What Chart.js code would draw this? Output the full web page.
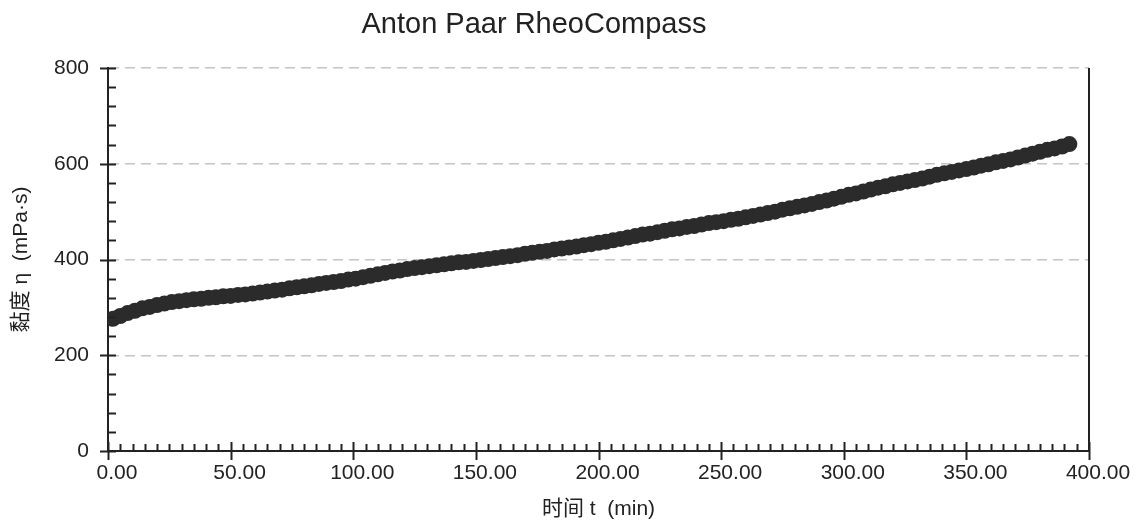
<!DOCTYPE html>
<html>
<head>
<meta charset="utf-8">
<script src="https://cdn.jsdelivr.net/npm/chart.js@4/dist/chart.umd.min.js"></script>
<style>
  html, body { margin: 0; padding: 0; background: #fff; }
  #wrap { width: 1143px; height: 524px; position: relative; }
</style>
</head>
<body>
<div id="wrap"><canvas id="rheo" width="1143" height="524"></canvas></div>
<script>
// Anton Paar RheoCompass — viscosity vs. time

const TITLE = 'Anton Paar RheoCompass';
const X_LABEL = '时间 t  (min)';
const Y_LABEL = '黏度 η  (mPa·s)';

// measurement times (min)
const times = [
  2, 5, 8, 11, 14, 17, 20, 23, 26, 29,
  32, 35, 38, 41, 44, 47, 50, 53, 56, 59,
  62, 65, 68, 71, 74, 77, 80, 83, 86, 89,
  92, 95, 98, 101, 104, 107, 110, 113, 116, 119,
  122, 125, 128, 131, 134, 137, 140, 143, 146, 149,
  152, 155, 158, 161, 164, 167, 170, 173, 176, 179,
  182, 185, 188, 191, 194, 197, 200, 203, 206, 209,
  212, 215, 218, 221, 224, 227, 230, 233, 236, 239,
  242, 245, 248, 251, 254, 257, 260, 263, 266, 269,
  272, 275, 278, 281, 284, 287, 290, 293, 296, 299,
  302, 305, 308, 311, 314, 317, 320, 323, 326, 329,
  332, 335, 338, 341, 344, 347, 350, 353, 356, 359,
  362, 365, 368, 371, 374, 377, 380, 383, 386, 389,
  392
];

// viscosity eta (mPa·s)
const viscosity = [
  276, 282, 288, 293, 298, 301, 305, 308, 311, 313,
  315, 317, 318, 320, 321, 323, 324, 326, 327, 329,
  331, 333, 335, 337, 340, 342, 344, 346, 349, 351,
  353, 355, 358, 360, 363, 366, 369, 372, 375, 377,
  380, 382, 384, 386, 388, 390, 392, 394, 395, 397,
  399, 401, 403, 405, 407, 409, 412, 414, 416, 418,
  421, 423, 425, 427, 430, 432, 435, 437, 440, 443,
  446, 449, 452, 454, 457, 460, 463, 465, 468, 470,
  473, 476, 478, 480, 483, 485, 488, 491, 494, 497,
  500, 504, 507, 510, 513, 516, 520, 523, 527, 531,
  535, 538, 542, 546, 550, 553, 557, 560, 563, 566,
  569, 573, 577, 580, 583, 586, 589, 592, 596, 599,
  603, 606, 609, 613, 617, 621, 625, 629, 632, 636,
  641
];

const xTicks = [0, 50, 100, 150, 200, 250, 300, 350, 400];
const yTicks = [0, 200, 400, 600, 800];

const INK = '#222222';
const FONT = '"Liberation Sans", Arial, "Noto Sans CJK SC", sans-serif';

// ===== PLUGINS =====
const frame = {
  id: 'frame',
  afterDraw(chart) {
    const { ctx, chartArea: a, scales: { x, y } } = chart;
    ctx.save();
    ctx.strokeStyle = INK;
    ctx.lineWidth = 2;

    // right border
    ctx.beginPath();
    ctx.moveTo(a.right, a.top);
    ctx.lineTo(a.right, a.bottom);
    ctx.stroke();

    // y ticks: minor every 40, major every 200
    for (let v = 0; v <= 800; v += 40) {
      const py = Math.round(y.getPixelForValue(v)) + 0.5;
      const major = yTicks.includes(v);
      ctx.beginPath();
      ctx.moveTo(a.left - (major ? 8 : 0), py);
      ctx.lineTo(a.left + 8, py);
      ctx.stroke();
    }

    // x ticks: minor every 5, major every 50
    for (let v = 0; v <= 400; v += 5) {
      const px = Math.round(x.getPixelForValue(v)) + 0.5;
      const major = xTicks.includes(v);
      ctx.beginPath();
      ctx.moveTo(px, a.bottom + (major ? 9 : 0));
      ctx.lineTo(px, a.bottom - (major ? 9 : 7));
      ctx.stroke();
    }

    // title
    ctx.fillStyle = INK;
    ctx.font = '29px ' + FONT;
    ctx.textAlign = 'center';
    ctx.textBaseline = 'middle';
    ctx.fillText(TITLE, 534, 25);
    ctx.restore();
  }
};

// ===== CHART =====
const ctx = document.getElementById('rheo').getContext('2d');
new Chart(ctx, {
  type: 'scatter',
  data: {
    datasets: [{
      label: 'eta',
      data: times.map((t, i) => ({ x: t, y: viscosity[i] })),
      backgroundColor: '#2b2b2b',
      borderWidth: 0,
      pointRadius: 8,
      showLine: false,
      clip: 0,
    }],
  },
  options: {
    responsive: false,
    animation: false,
    devicePixelRatio: 1,
    layout: { padding: { top: 68, right: 54, left: 0, bottom: 0 } },
    plugins: {
      legend: { display: false },
      tooltip: { enabled: false },
    },
    scales: {
      x: {
        type: 'linear',
        min: 0,
        max: 400,
        afterFit: s => { s.height = 73; },
        afterBuildTicks: s => { s.ticks = xTicks.map(v => ({ value: v })); },
        grid: { display: false, drawTicks: false },
        border: { display: true, color: INK, width: 2 },
        ticks: {
          color: INK,
          padding: 10,
          labelOffset: 9,
          maxRotation: 0,
          font: { family: FONT, size: 21 },
          callback: v => Number(v).toFixed(2),
        },
        title: {
          display: true,
          text: X_LABEL,
          color: INK,
          font: { family: FONT, size: 21 },
          padding: { top: 0, bottom: 2 },
        },
      },
      y: {
        type: 'linear',
        min: 0,
        max: 800,
        afterFit: s => { s.width = 108; },
        afterBuildTicks: s => { s.ticks = yTicks.map(v => ({ value: v })); },
        grid: { display: true, drawTicks: false, color: '#c4c4c4', lineWidth: 1.5 },
        border: { display: true, color: INK, width: 2, dash: [10, 6] },
        ticks: {
          color: INK,
          padding: 19,
          font: { family: FONT, size: 21 },
        },
        title: {
          display: true,
          text: Y_LABEL,
          color: INK,
          font: { family: FONT, size: 21 },
          padding: { top: 9, bottom: 0 },
        },
      },
    },
  },
  plugins: [frame],
});
</script>
</body>
</html>
